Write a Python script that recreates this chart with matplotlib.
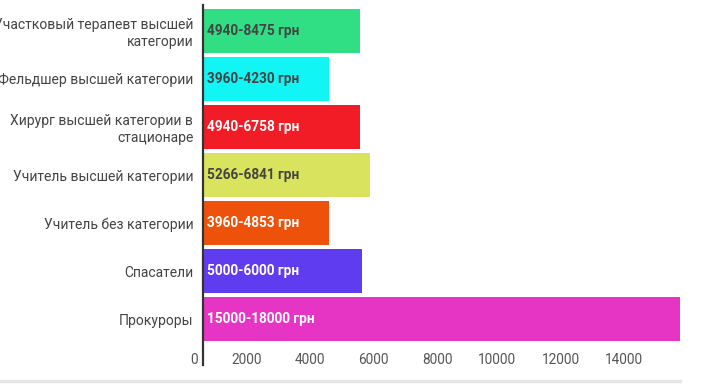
import matplotlib
matplotlib.use("Agg")
import matplotlib.pyplot as plt
from matplotlib.lines import Line2D
from matplotlib.transforms import ScaledTranslation

# данные
categories = [
    "Участковый терапевт высшей\nкатегории",
    "Фельдшер высшей категории",
    "Хирург высшей категории в\nстационаре",
    "Учитель высшей категории",
    "Учитель без категории",
    "Спасатели",
    "Прокуроры",
]
salary_min = [4940, 3960, 4940, 5266, 3960, 5000, 15000]
salary_max = [8475, 4230, 6758, 6841, 4853, 6000, 18000]
x_ticks = [0, 2000, 4000, 6000, 8000, 10000, 12000, 14000]

bar_colors = ["#30de84", "#12f5f5", "#f21c26", "#d9e35e", "#ee520a", "#5f3cf0", "#e635c5"]
text_colors = ["#444444", "#444444", "white", "#444444", "white", "white", "white"]

plt.rcParams['font.family'] = ['Roboto', 'DejaVu Sans']

fig = plt.figure(figsize=(7.2, 3.9), dpi=100)
ax = fig.add_axes([203 / 720, 1 - 345 / 390, 477 / 720, 340 / 390])

y = list(range(len(categories)))
ax.barh(y, salary_min, height=0.9, color=bar_colors, edgecolor="none")

for i, (lo, hi) in enumerate(zip(salary_min, salary_max)):
    ax.text(130, i, f"{lo}-{hi} грн", va="center", ha="left",
            fontsize=9.8, fontweight="bold", color=text_colors[i])

ax.set_xlim(0, 15000)
ax.set_ylim(6.54, -0.54)
ax.set_yticks(y)
ax.set_yticklabels(categories, fontsize=10, color="#444444", ha="right",
                   multialignment="right")
ax.set_xticks(x_ticks)
ax.set_xticklabels([str(t) for t in x_ticks], fontsize=9.8, color="#555555", ha="right")
ax.tick_params(axis="both", length=0)
ax.tick_params(axis="y", pad=7)
ax.tick_params(axis="x", pad=6)
shift = ScaledTranslation(-5 / 100, 0, fig.dpi_scale_trans)
for lbl in ax.get_xticklabels():
    lbl.set_transform(lbl.get_transform() + shift)

for s in ["top", "right", "bottom", "left"]:
    ax.spines[s].set_visible(False)
ax.axvline(0, ymin=-0.06, ymax=1.0, color="#333333", lw=1.6, clip_on=False, zorder=5)

# серая линия снизу
fig.add_artist(Line2D([0, 680 / 720], [1 - 381 / 390] * 2, color="#e6e6e6", lw=2.5))

fig.savefig("out.png", dpi=100, facecolor="white")
